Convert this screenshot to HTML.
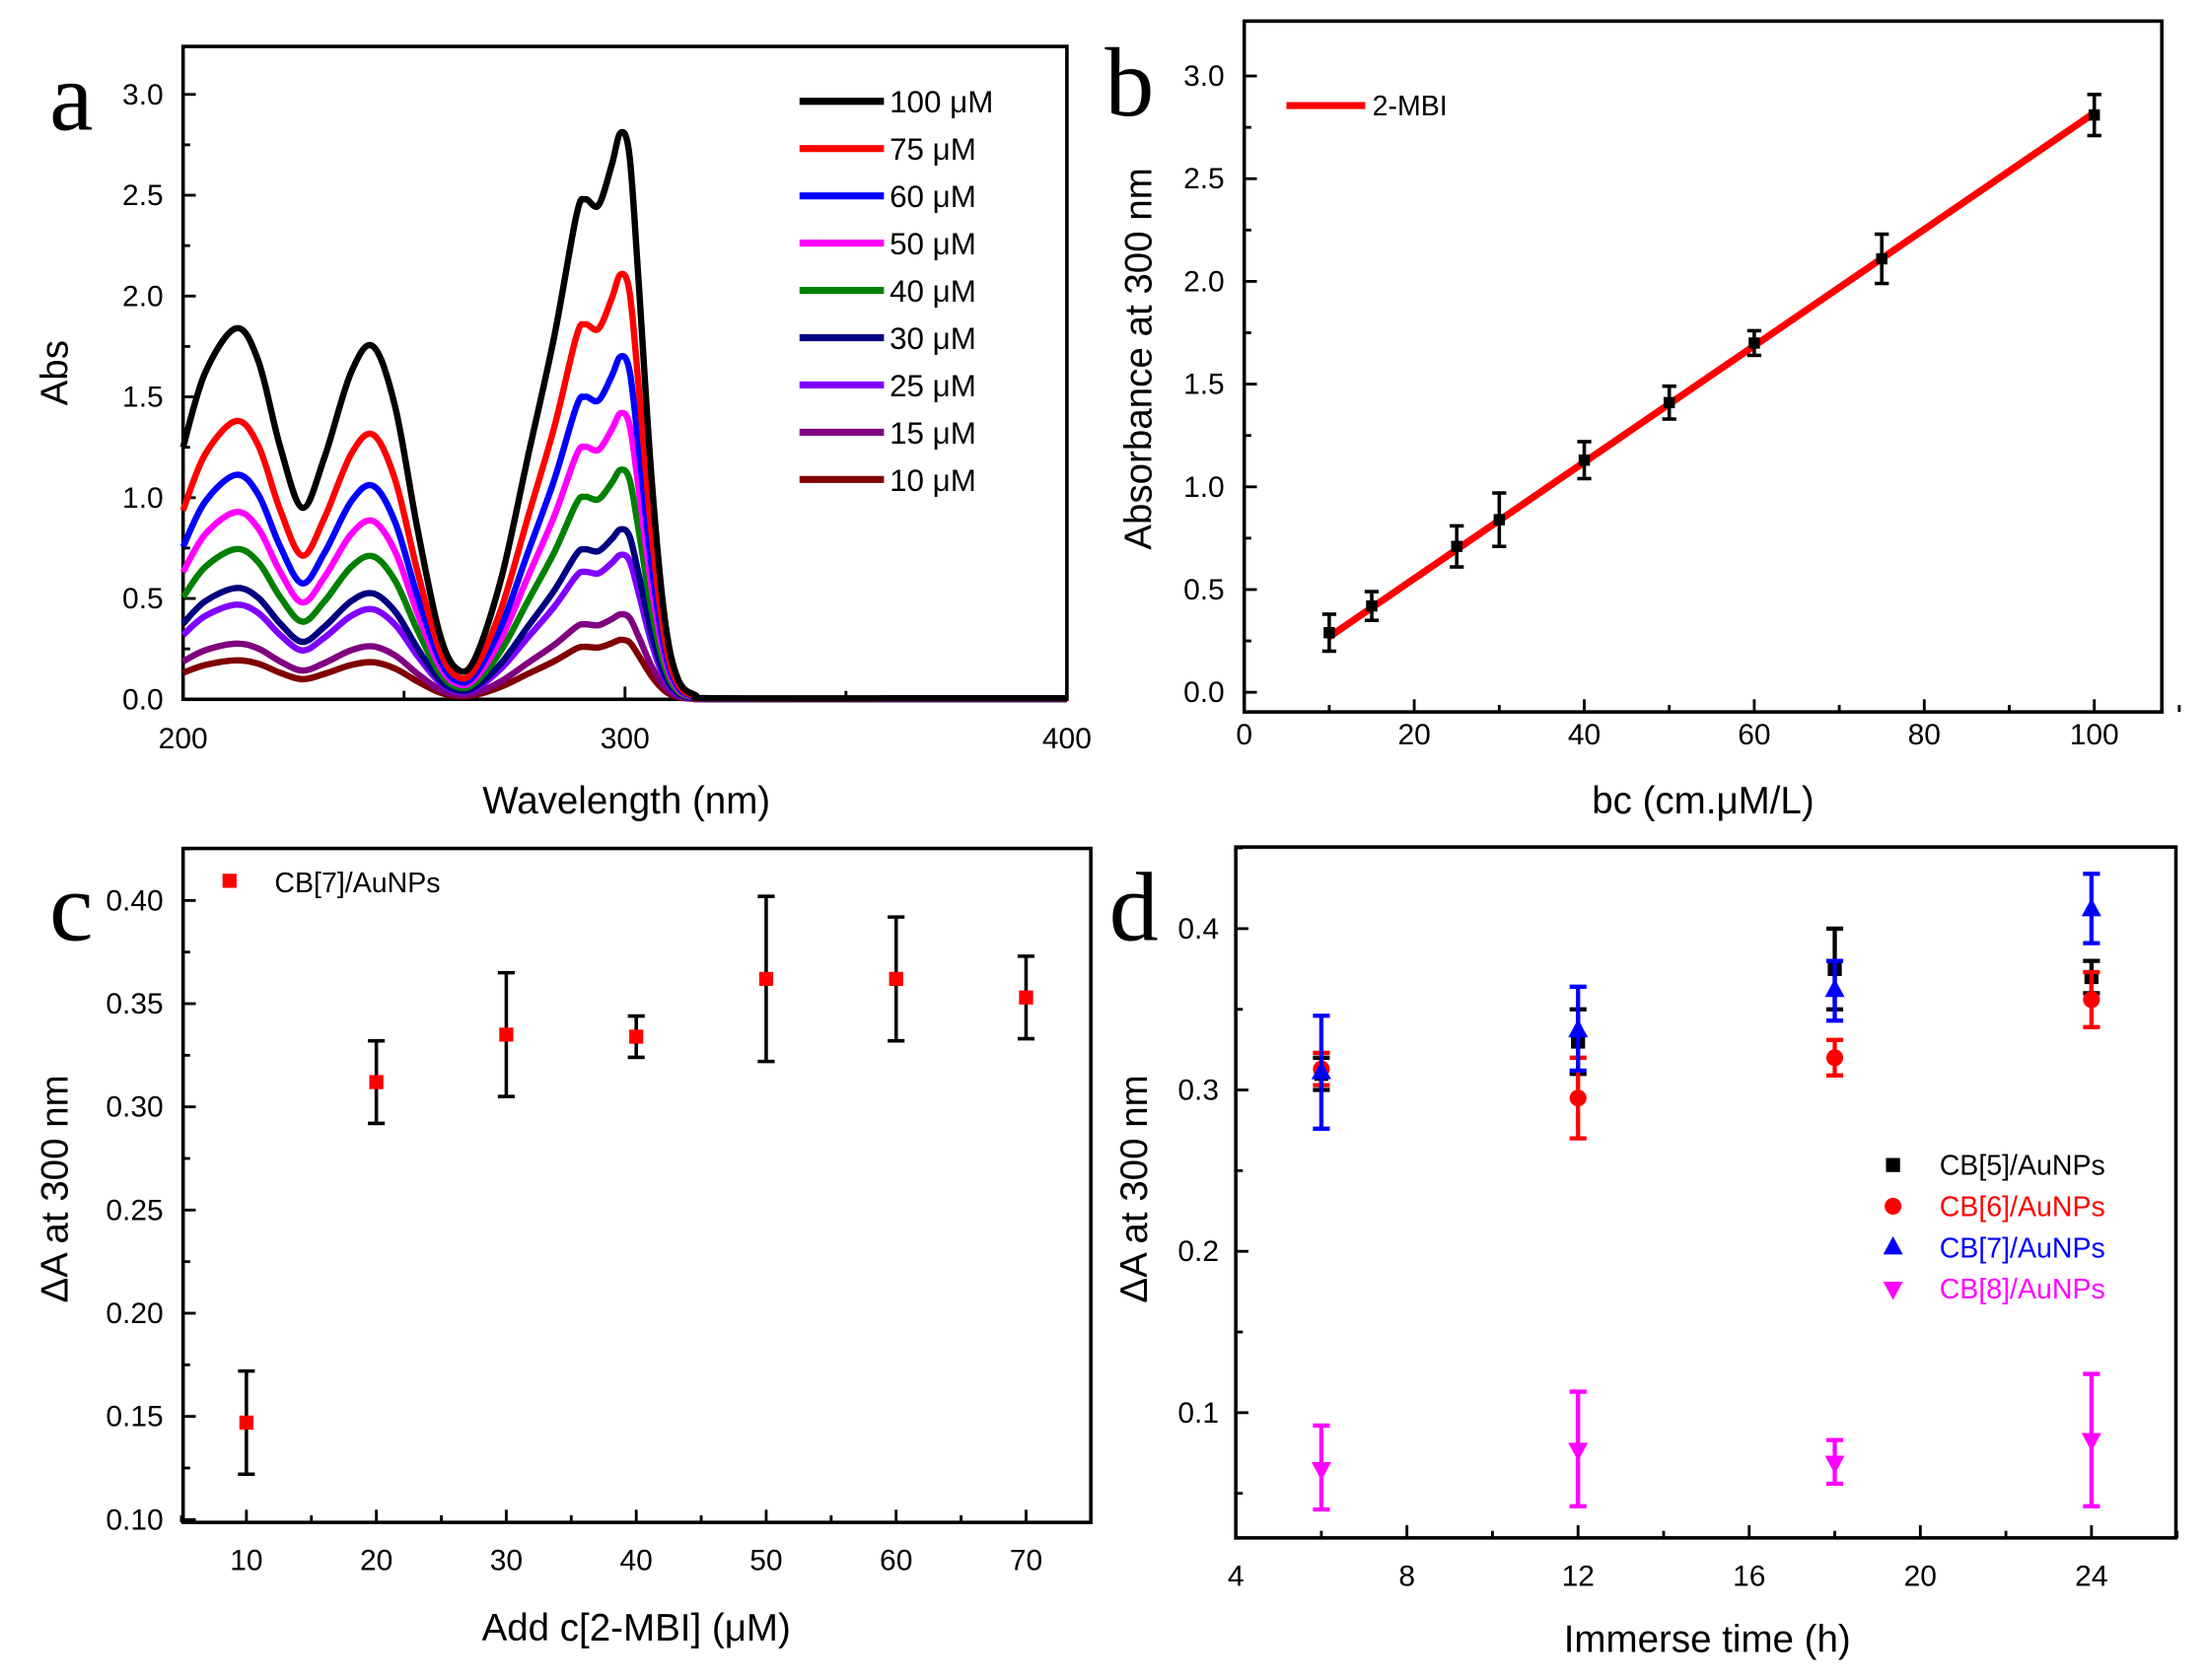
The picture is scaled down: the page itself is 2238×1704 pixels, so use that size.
<!DOCTYPE html>
<html><head><meta charset="utf-8"><style>
html,body{margin:0;padding:0;background:#fff}
svg{display:block}
text{font-family:"Liberation Sans",sans-serif;fill:#000}
text.serif{font-family:"Liberation Serif",serif}
</style></head><body>
<svg id="s" width="2238" height="1704" viewBox="0 0 1568 1194" xmlns="http://www.w3.org/2000/svg">
<rect width="1568" height="1194" fill="#fff"/>
</svg>
<script>
const S=document.getElementById('s');let H='';
function ln(x1,y1,x2,y2,c,w){H+=`<line x1="${x1}" y1="${y1}" x2="${x2}" y2="${y2}" stroke="${c||'#000'}" stroke-width="${w||2}"/>`;}
function tx(x,y,t,o){o=o||{};H+=`<text x="${x}" y="${y}" font-size="${o.s||21}" text-anchor="${o.a||'start'}" ${o.f?'class="serif"':''} ${o.c?'style="fill:'+o.c+'"':''} ${o.r?'transform="rotate(-90 '+x+' '+y+')"':''}>${t}</text>`;}
function box(x1,y1,x2,y2){H+=`<rect x="${x1}" y="${y1}" width="${x2-x1}" height="${y2-y1}" fill="none" stroke="#000" stroke-width="2.5"/>`;}
// ---------- Panel a
{const X=v=>130+(v-200)*3.14,Y=v=>497-v*143.3;
box(130,33,758,497);
for(let v=0;v<=3.0001;v+=0.25){const y=Y(v);ln(130,y,v%0.5<0.01||v%0.5>0.49?139:135,y);}
for(let v=0;v<=3.0001;v+=0.5){tx(116,Y(v)+7,v.toFixed(1),{a:'end'});}
for(let w=200;w<=400;w+=50){ln(X(w),497,X(w),w%100?491:488);}
[200,300,400].forEach(w=>tx(X(w),532,w,{a:'middle'}));
tx(445,578,'Wavelength (nm)',{s:27,a:'middle'});
tx(48,265,'Abs',{s:27,a:'middle',r:1});
tx(35,92,'a',{s:70,f:1});
const P=[[200,1.25],[205,1.62],[212,1.84],[217,1.68],[222,1.25],[227,0.95],[232,1.2],[238,1.62],[243,1.75],[248,1.45],[253,0.85],[258,0.33],[262,0.15],[266,0.2],[272,0.6],[278,1.2],[284,1.8],[289,2.4],[291,2.48],[294,2.45],[297,2.65],[299,2.81],[301,2.7],[303,2.1],[306,1.1],[309,0.4],[312,0.1],[316,0.02],[320,0.005],[360,0.005],[400,0.005]];
const cs=[[100,'#000'],[75,'#f00'],[60,'#00f'],[50,'#f0f'],[40,'#008000'],[30,'#000080'],[25,'#8000ff'],[15,'#800080'],[10,'#800000']];
const sc={100:1,75:0.75,60:0.605,50:0.505,40:0.405,30:0.3,25:0.255,15:0.15,10:0.105};
cs.slice().reverse().forEach(([c,col])=>{const k=sc[c];const pts=P.map(([w,a])=>[X(w),Y(a*k)]);
let d=`M${pts[0][0]},${pts[0][1]}`;for(let i=0;i<pts.length-1;i++){const p0=pts[i-1]||pts[i],p1=pts[i],p2=pts[i+1],p3=pts[i+2]||p2;
d+=` C${p1[0]+(p2[0]-p0[0])/6},${p1[1]+(p2[1]-p0[1])/6} ${p2[0]-(p3[0]-p1[0])/6},${p2[1]-(p3[1]-p1[1])/6} ${p2[0]},${p2[1]}`;}
H+=`<path d="${d}" fill="none" stroke="${col}" stroke-width="4.5" stroke-linejoin="round"/>`;});
cs.forEach(([c,col],i)=>{const y=72+i*33.6;ln(568,y,628,y,col,5);tx(632,y+8,c+' μM',{s:22});});
}
// ---------- Panel b
{const X=v=>884+v*6.04,Y=v=>492-v*146;
box(884,15,1536,506);
for(let v=0;v<=3.0001;v+=0.25){ln(884,Y(v),v*4%2<0.01?893:889,Y(v));}
for(let v=0;v<=3.0001;v+=0.5)tx(870,Y(v)+7,v.toFixed(1),{a:'end'});
for(let v=0;v<=110;v+=10){ln(X(v),506,X(v),v%20?501:497);}
for(let v=0;v<=100;v+=20)tx(X(v),529,v,{a:'middle'});
tx(1210,578,'bc (cm.μM/L)',{s:27,a:'middle'});
tx(818,255,'Absorbance at 300 nm',{s:27,a:'middle',r:1});
tx(785,82,'b',{s:70,f:1});
ln(X(10),Y(0.27),X(100),Y(2.82),'#f00',5);
[[10,.29,.09],[15,.42,.07],[25,.71,.1],[30,.84,.13],[40,1.13,.09],[50,1.41,.08],[60,1.70,.06],[75,2.11,.12],[100,2.81,.1]].forEach(([x,y,e])=>{const px=X(x);ln(px,Y(y-e),px,Y(y+e),'#000',2.5);ln(px-5,Y(y-e),px+5,Y(y-e),'#000',2.5);ln(px-5,Y(y+e),px+5,Y(y+e),'#000',2.5);H+=`<rect x="${px-4}" y="${Y(y)-4}" width="8" height="8" fill="#000"/>`;});
ln(914,75,970,75,'#f00',5);tx(975,82,'2-MBI',{s:20});
}
// ---------- Panel c
{const X=v=>175+(v-10)*9.233,Y=v=>1080-(v-0.1)*1466.7;
box(130,603,775,1082);
for(let v=0.10;v<=0.4251;v+=0.025){const m=Math.round(v*1000)%50===0;ln(130,Y(v),m?139:135,Y(v));}
for(let v=0.10;v<=0.4001;v+=0.05)tx(116,Y(v)+7,v.toFixed(2),{a:'end'});
for(let v=5;v<=75;v+=5){ln(X(v),1082,X(v),v%10?1077:1073);}
for(let v=10;v<=70;v+=10)tx(X(v),1116,v,{a:'middle'});
tx(452,1166,'Add c[2-MBI] (μM)',{s:27,a:'middle'});
tx(48,845,'ΔA at 300 nm',{s:27,a:'middle',r:1});
tx(35,668,'c',{s:70,f:1});
[[10,.147,.025],[20,.312,.02],[30,.335,.03],[40,.334,.01],[50,.362,.04],[60,.362,.03],[70,.353,.02]].forEach(([x,y,e])=>{const px=X(x);ln(px,Y(y-e),px,Y(y+e),'#000',2.5);ln(px-6,Y(y-e),px+6,Y(y-e),'#000',2.5);ln(px-6,Y(y+e),px+6,Y(y+e),'#000',2.5);H+=`<rect x="${px-5}" y="${Y(y)-5}" width="10" height="10" fill="#f00"/>`;});
H+=`<rect x="158" y="621" width="10" height="10" fill="#f00"/>`;tx(195,634,'CB[7]/AuNPs',{s:20});
}
// ---------- Panel d
{const X=v=>878+(v-4)*30.4,Y=v=>1004-(v-0.1)*1146.7;
box(878,602,1546,1093);
for(let k=1;k<=9;k++){const v=k*0.05;if(Y(v)>1093||Y(v)<602)continue;ln(878,Y(v),k%2?883:887,Y(v));}
[0.1,0.2,0.3,0.4].forEach(v=>tx(866,Y(v)+7,v.toFixed(1),{a:'end'}));
for(let v=4;v<=26;v+=2){ln(X(v),1093,X(v),v%4?1088:1084);}
for(let v=4;v<=24;v+=4)tx(X(v),1127,v,{a:'middle'});
tx(1213,1174,'Immerse time (h)',{s:27,a:'middle'});
tx(815,845,'ΔA at 300 nm',{s:27,a:'middle',r:1});
tx(788,668,'d',{s:70,f:1});
function eb(x,y,l,h,c){const px=X(x);ln(px,Y(l),px,Y(h),c,3);ln(px-6,Y(l),px+6,Y(l),c,3);ln(px-6,Y(h),px+6,Y(h),c,3);}
function mk(px,py,t,c){if(t==0)H+=`<rect x="${px-5}" y="${py-5}" width="10" height="10" fill="${c}"/>`;
if(t==1)H+=`<circle cx="${px}" cy="${py}" r="6" fill="${c}"/>`;
if(t==2)H+=`<polygon points="${px},${py-8} ${px-7},${py+5} ${px+7},${py+5}" fill="${c}"/>`;
if(t==3)H+=`<polygon points="${px},${py+8} ${px-7},${py-5} ${px+7},${py-5}" fill="${c}"/>`;}
const D=[['#000',0,[[6,.31,.30,.32],[12,.33,.31,.35],[18,.375,.35,.40],[24,.37,.36,.38]]],
['#f00',1,[[6,.313,.303,.323],[12,.295,.27,.32],[18,.32,.309,.331],[24,.356,.339,.373]]],
['#00f',2,[[6,.311,.276,.346],[12,.337,.312,.364],[18,.362,.343,.38],[24,.412,.391,.434]]],
['#f0f',3,[[6,.065,.04,.092],[12,.077,.042,.113],[18,.069,.056,.083],[24,.083,.042,.124]]]];
D.forEach(([c,t,ps])=>ps.forEach(([x,y,l,h])=>{eb(x,y,l,h,c);mk(X(x),Y(y),t,c);}));
['CB[5]/AuNPs','CB[6]/AuNPs','CB[7]/AuNPs','CB[8]/AuNPs'].forEach((s,i)=>{const y=828+i*29.3;mk(1345,y,i,D[i][0]);tx(1378,y+7,s,{s:20,c:D[i][0]});});
}
S.innerHTML+=H;
</script>
</body></html>
